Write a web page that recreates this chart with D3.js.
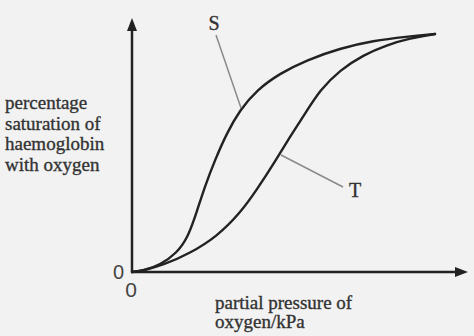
<!DOCTYPE html>
<html><head><meta charset="utf-8">
<script src="https://cdn.jsdelivr.net/npm/d3@7"></script>
<style>html,body{margin:0;padding:0;background:#f2f2f2;}svg{display:block;}</style>
</head><body>
<script>
// Data (arbitrary units: pressure 0-100, saturation 0-100)
const curveS_x = [0, 3.36, 8.33, 13.30, 16.76, 19.35, 21.73, 24.70, 28.18, 32.14, 37.11, 44.05, 51.99, 61.90, 71.82, 81.76, 90.18];
const curveS_y = [0, 0.51, 2.76, 7.36, 13.90, 24.02, 33.86, 44.09, 54.61, 63.78, 71.65, 78.23, 83.46, 88.07, 91.06, 92.64, 93.70];
const curveT_x = [0, 3.36, 9.32, 17.26, 25.21, 32.14, 37.11, 42.86, 47.02, 51.58, 55.95, 61.90, 68.84, 75.80, 82.74, 90.18];
const curveT_y = [0, 0.51, 2.76, 7.36, 13.90, 23.11, 32.28, 44.09, 53.27, 62.48, 71.65, 79.53, 85.43, 89.37, 92.01, 93.70];
const seriesNames = ["S", "T"];
const yLabelLines = ["percentage", "saturation of", "haemoglobin", "with oxygen"];
const xLabelLines = ["partial pressure of", "oxygen/kPa"];
const zeroLabel = "0";

const W = 474, H = 336;
const svg = d3.select("body").append("svg").attr("width", W).attr("height", H);
svg.append("rect").attr("width", W).attr("height", H).attr("fill", "#f2f2f2");

const x = d3.scaleLinear().domain([0, 100]).range([132, 468]);
const y = d3.scaleLinear().domain([0, 100]).range([272, 18]);

const ink = "#222";
// axes
svg.append("line").attr("x1", x(0)).attr("y1", y(0)).attr("x2", x(0)).attr("y2", y(100) + 10)
  .attr("stroke", ink).attr("stroke-width", 2.5);
svg.append("line").attr("x1", x(0) - 1).attr("y1", y(0)).attr("x2", x(100) - 10).attr("y2", y(0))
  .attr("stroke", ink).attr("stroke-width", 2.5);
// arrowheads
svg.append("path").attr("d", `M${x(0)},${y(100)} L${x(0) - 5},${y(100) + 13} L${x(0) + 5},${y(100) + 13} Z`).attr("fill", ink);
svg.append("path").attr("d", `M${x(100)},${y(0)} L${x(100) - 13},${y(0) - 5} L${x(100) - 13},${y(0) + 5} Z`).attr("fill", ink);

const line = d3.line().x(d => x(d[0])).y(d => y(d[1])).curve(d3.curveBasis);
const dataS = curveS_x.map((v, i) => [v, curveS_y[i]]);
const dataT = curveT_x.map((v, i) => [v, curveT_y[i]]);
[dataS, dataT].forEach(d => {
  svg.append("path").attr("d", line(d)).attr("fill", "none").attr("stroke", ink)
    .attr("stroke-width", 2.4).attr("stroke-linecap", "round");
});

// leader lines
svg.append("line").attr("x1", 216).attr("y1", 35).attr("x2", 241).attr("y2", 108)
  .attr("stroke", "#8a8a8a").attr("stroke-width", 1.5);
svg.append("line").attr("x1", 281).attr("y1", 155).attr("x2", 343).attr("y2", 187)
  .attr("stroke", "#8a8a8a").attr("stroke-width", 1.5);

const serif = "'Liberation Serif','DejaVu Serif',serif";
const txt = (xx, yy, t, size, fam, anchor, col) => svg.append("text").attr("x", xx).attr("y", yy)
  .attr("text-anchor", anchor).attr("font-family", fam).attr("font-size", size)
  .attr("fill", col).attr("stroke", col).attr("stroke-width", 0.35).text(t);

txt(214, 30, seriesNames[0], 20, serif, "middle", "#333");
txt(355, 197, seriesNames[1], 20, serif, "middle", "#333");

yLabelLines.forEach((t, i) => txt(5, 109 + i * 20.7, t, 19, serif, "start", "#333"));
xLabelLines.forEach((t, i) => txt(215, 309 + i * 19, t, 19, serif, "start", "#333"));

const sans = "'Liberation Sans',Arial,sans-serif";
svg.append("text").attr("x", 118.5).attr("y", 279).attr("text-anchor", "middle")
  .attr("font-family", sans).attr("font-size", 20).attr("fill", "#444").text(zeroLabel);
svg.append("text").attr("x", 131).attr("y", 297).attr("text-anchor", "middle")
  .attr("font-family", sans).attr("font-size", 21).attr("fill", "#444").text(zeroLabel);
</script>
</body></html>
